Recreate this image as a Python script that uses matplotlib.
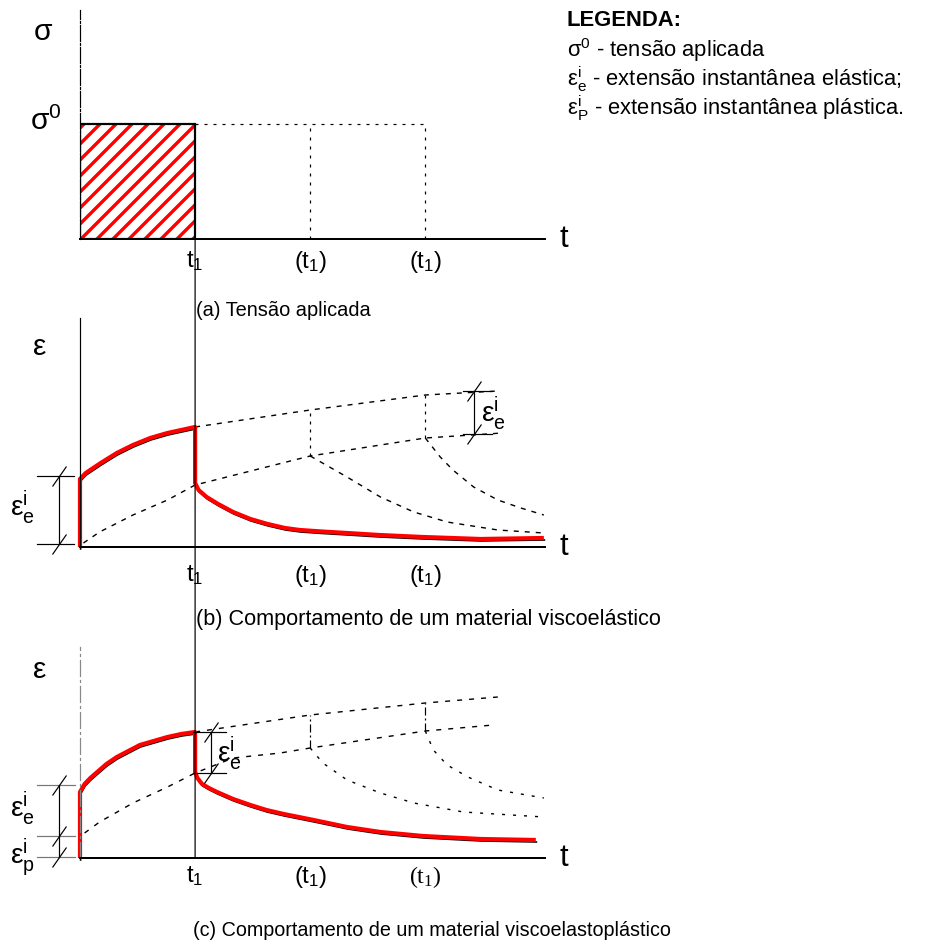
import matplotlib
matplotlib.use("Agg")
import matplotlib.pyplot as plt
from matplotlib.patches import Rectangle, ConnectionPatch
from matplotlib.path import Path
from matplotlib.transforms import offset_copy

plt.rcParams['font.family'] = ['Liberation Sans', 'DejaVu Sans']
plt.rcParams['mathtext.fontset'] = 'custom'
plt.rcParams['mathtext.rm'] = 'Liberation Sans'
plt.rcParams['mathtext.it'] = 'Liberation Sans:italic'
plt.rcParams['mathtext.bf'] = 'Liberation Sans:bold'
plt.rcParams['mathtext.sf'] = 'Liberation Serif'
plt.rcParams['hatch.linewidth'] = 1.7
plt.rcParams['lines.scale_dashes'] = False

W, H, DPI = 937, 945, 144
RED = "#ff0000"

# ---- data (time in units of t1, strain in arbitrary units) ----
t_ticks = [1, 2, 3]
tick_labels = [r"$\mathrm{t_1}$", r"$\mathrm{(t_1)}$", r"$\mathrm{(t_1)}$"]
tick_labels_c = [r"$\mathrm{t_1}$", r"$\mathrm{(t_1)}$", r"$\mathsf{(t_1)}$"]
t_max = 4.04

# (a) applied stress
sigma0 = 1.0
sigma_top = 1.99
load_end = 1.0
unload_times = [2, 3]

# (b) viscoelastic
b_red_t = [0, 0, 0.05, 0.18, 0.32, 0.46, 0.61, 0.76, 0.88, 1.0,
           1.0, 1.03, 1.10, 1.20, 1.33, 1.48, 1.63, 1.78, 1.91, 2.10, 2.32, 2.60, 2.98, 3.48, 4.03]
b_red_e = [0, 0.68, 0.74, 0.84, 0.94, 1.02, 1.09, 1.14, 1.17, 1.20,
           0.64, 0.57, 0.50, 0.43, 0.35, 0.28, 0.23, 0.19, 0.17, 0.155, 0.14, 0.12, 0.10, 0.08, 0.09]
b_up_t = [1.0, 2.0, 3.0, 3.63]
b_up_e = [1.20, 1.37, 1.52, 1.56]
b_low_t = [0.03, 0.17, 0.46, 0.76, 1.0, 2.0, 3.0, 3.67]
b_low_e = [0.04, 0.15, 0.32, 0.47, 0.62, 0.91, 1.09, 1.14]
b_dec1_t = [2.0, 2.32, 2.61, 2.90, 3.19, 3.63, 4.03]
b_dec1_e = [0.91, 0.70, 0.50, 0.35, 0.25, 0.17, 0.14]
b_dec2_t = [3.0, 3.13, 3.24, 3.42, 3.63, 3.83, 4.03]
b_dec2_e = [1.09, 0.90, 0.77, 0.60, 0.47, 0.39, 0.32]
b_ee_left = [0.03, 0.71]
b_ee_right = [1.13, 1.56]

# (c) viscoelastoplastic
c_red_t = [0, 0, 0.04, 0.09, 0.15, 0.23, 0.32, 0.42, 0.52, 0.64, 0.76, 0.88, 1.0,
           1.0, 1.02, 1.06, 1.12, 1.19, 1.33, 1.48, 1.62, 1.77, 2.03, 2.32, 2.61, 2.98, 3.48, 3.96]
c_red_e = [0, 0.66, 0.74, 0.80, 0.86, 0.94, 1.01, 1.07, 1.13, 1.17, 1.21, 1.24, 1.26,
           0.86, 0.80, 0.74, 0.70, 0.66, 0.59, 0.53, 0.48, 0.44, 0.38, 0.31, 0.26, 0.22, 0.19, 0.18]
c_up_t = [1.0, 2.0, 3.0, 3.63]
c_up_e = [1.26, 1.43, 1.55, 1.61]
c_mid_t = [0.04, 0.17, 0.46, 0.76, 1.0, 1.33, 1.74, 2.0, 3.0, 3.59]
c_mid_e = [0.25, 0.36, 0.55, 0.71, 0.85, 1.00, 1.05, 1.10, 1.27, 1.33]
c_dec1_t = [2.0, 2.11, 2.32, 2.61, 2.90, 3.33, 4.03]
c_dec1_e = [1.10, 0.95, 0.78, 0.65, 0.55, 0.46, 0.41]
c_dec2_t = [3.0, 3.07, 3.19, 3.37, 3.63, 4.03]
c_dec2_e = [1.27, 1.08, 0.93, 0.81, 0.68, 0.60]
c_left_levels = [0.01, 0.22, 0.73]
c_ee_mid = [0.85, 1.26]

captions = ["(a) Tensão aplicada",
            "(b) Comportamento de um material viscoelástico",
            "(c) Comportamento de um material viscoelastoplástico"]
caption_sizes = [10, 10.8, 9.9]
legend_title = "LEGENDA:"
legend_rows = [r"$\mathrm{σ}^{0}$ - tensão aplicada",
               r"$\mathrm{ε}^{\mathrm{i}}_{\mathrm{e}}$ - extensão instantânea elástica;",
               r"$\mathrm{ε}^{\mathrm{i}}_{\mathrm{P}}$ - extensão instantânea plástica."]

EE = r"$\mathrm{ε}^{\mathrm{i}}_{\mathrm{e}}$"
EP = r"$\mathrm{ε}^{\mathrm{i}}_{\mathrm{p}}$"

fig = plt.figure(figsize=(W / DPI, H / DPI), dpi=DPI)
fig.patch.set_facecolor("white")


def px_axes(left, top, right, bottom):
    return fig.add_axes([left / W, 1 - bottom / H, (right - left) / W, (bottom - top) / H])


def setup(ax, ytop, labels, pad, left_style="-", left_color="black", left_lw=0.6):
    ax.set_xlim(0, t_max)
    ax.set_ylim(0, ytop)
    ax.patch.set_alpha(0)
    for s in ["top", "right"]:
        ax.spines[s].set_visible(False)
    ax.spines["left"].set_linewidth(left_lw)
    ax.spines["left"].set_color(left_color)
    ax.spines["left"].set_linestyle(left_style)
    ax.spines["bottom"].set_linewidth(1.0)
    ax.set_yticks([])
    ax.set_xticks(t_ticks)
    ax.set_xticklabels(labels, fontsize=12)
    ax.tick_params(axis="x", length=0, pad=pad)
    ax.text(4.2, 0, "t", fontsize=15.5, ha="center", va="center", clip_on=False)


slash = Path([(-0.7, -1), (0.7, 1)], [Path.MOVETO, Path.LINETO])


def dimension(ax, x, levels, ext0, ext1, color="black"):
    for lv in levels:
        ax.plot([ext0, ext1], [lv, lv], color=color, lw=0.6, clip_on=False)
    ax.plot([x, x], [min(levels), max(levels)], color="black", lw=0.6, clip_on=False)
    ax.plot([x] * len(levels), levels, ls="none", marker=slash, ms=10,
            mec="black", mew=0.6, clip_on=False)


def red_curve(ax, t, e):
    shadow = offset_copy(ax.transData, fig=fig, x=0.3, y=-1.0, units="points")
    ax.plot(t, e, color="black", lw=0.8, transform=shadow, clip_on=False)
    ax.plot(t, e, color=RED, lw=2.1, solid_capstyle="butt",
            solid_joinstyle="round", clip_on=False)


# ---------- (a) ----------
ax_a = px_axes(80, 10, 545, 239)
setup(ax_a, sigma_top, tick_labels, 5, left_style=(0, (8, 1, 1, 1)))
ax_a.add_patch(Rectangle((0, 0), load_end, sigma0, facecolor="white",
                         edgecolor=RED, hatch="///", linewidth=0))
ax_a.add_patch(Rectangle((0, 0), load_end, sigma0, fill=False,
                         edgecolor="black", linewidth=1.1))
ax_a.plot([load_end, max(unload_times)], [sigma0, sigma0], color="black",
          lw=0.6, ls=(0, (1.5, 3)))
for tu in unload_times:
    ax_a.plot([tu, tu], [0, sigma0], color="black", lw=0.6, ls=(0, (1.5, 3)))
ax_a.text(-0.32, 1.80, "σ", fontsize=15, ha="center", va="center")
ax_a.text(-0.30, sigma0 + 0.02, r"$\mathrm{σ}^{0}$", fontsize=15, ha="center", va="center")

# ---------- (b) ----------
ax_b = px_axes(80, 318, 545, 547)
setup(ax_b, 2.29, tick_labels, 8)
dash_b = (0, (2.5, 3))
ax_b.plot(b_up_t, b_up_e, color="black", lw=0.7, ls=dash_b)
ax_b.plot(b_low_t, b_low_e, color="black", lw=0.7, ls=dash_b)
ax_b.plot(b_dec1_t, b_dec1_e, color="black", lw=0.7, ls=dash_b)
ax_b.plot(b_dec2_t, b_dec2_e, color="black", lw=0.7, ls=dash_b)
for i, tu in enumerate(unload_times):
    ax_b.plot([tu, tu], [b_low_e[5 + i], b_up_e[1 + i]],
              color="black", lw=0.6, ls=(0, (1.5, 2.5)))
red_curve(ax_b, b_red_t, b_red_e)
dimension(ax_b, -0.18, b_ee_left, -0.37, -0.05)
dimension(ax_b, 3.42, b_ee_right, 3.33, 3.58)
ax_b.text(-0.50, 0.40, EE, fontsize=14, ha="center", va="center", clip_on=False)
ax_b.text(3.48, 1.34, EE, fontsize=14, ha="left", va="center")
ax_b.text(-0.35, 2.0, "ε", fontsize=15, ha="center", va="center", clip_on=False)

# ---------- (c) ----------
ax_c = px_axes(80, 647, 545, 858)
setup(ax_c, 2.11, tick_labels_c, 3, left_style=(0, (8, 2, 1, 2)),
      left_color="#888888")
dash_c = (0, (2.5, 3.5))
dot_c = (0, (1.5, 4))
ax_c.plot(c_up_t, c_up_e, color="black", lw=0.7, ls=dash_c)
ax_c.plot(c_mid_t, c_mid_e, color="black", lw=0.7, ls=dash_c)
ax_c.plot(c_dec1_t, c_dec1_e, color="black", lw=0.7, ls=dot_c)
ax_c.plot(c_dec2_t, c_dec2_e, color="black", lw=0.7, ls=dot_c)
for i, tu in enumerate(unload_times):
    ax_c.plot([tu, tu], [c_mid_e[7 + i], c_up_e[1 + i]], color="black",
              lw=0.6, ls=(0, (4, 1.5, 1, 1.5)))
red_curve(ax_c, c_red_t, c_red_e)
dimension(ax_c, -0.18, c_left_levels, -0.37, -0.04, color="#777777")
dimension(ax_c, 1.14, c_ee_mid, 0.98, 1.27)
ax_c.text(-0.50, 0.50, EE, fontsize=14, ha="center", va="center", clip_on=False)
ax_c.text(-0.50, 0.01, EP, fontsize=14, ha="center", va="center", clip_on=False)
ax_c.text(1.19, 1.05, EE, fontsize=14, ha="left", va="center")
ax_c.text(-0.35, 1.88, "ε", fontsize=15, ha="center", va="center", clip_on=False)

# long t1 line running through all three panels
fig.add_artist(ConnectionPatch(xyA=(load_end, sigma0), coordsA=ax_a.transData,
                               xyB=(load_end, 0), coordsB=ax_c.transData,
                               color="black", lw=0.6))

# captions
for cap, size, (cx, cy) in zip(captions, caption_sizes, [(196, 311), (196, 620), (193, 930)]):
    fig.text(cx / W, 1 - cy / H, cap, fontsize=size, ha="left", va="center")

# legend block
fig.text(567 / W, 1 - 21 / H, legend_title, fontsize=11, fontweight="bold",
         ha="left", va="center")
for row, ry in zip(legend_rows, [50, 79, 108]):
    fig.text(567 / W, 1 - ry / H, row, fontsize=11, ha="left", va="center")

fig.savefig("out.png", dpi=DPI, facecolor="white")
